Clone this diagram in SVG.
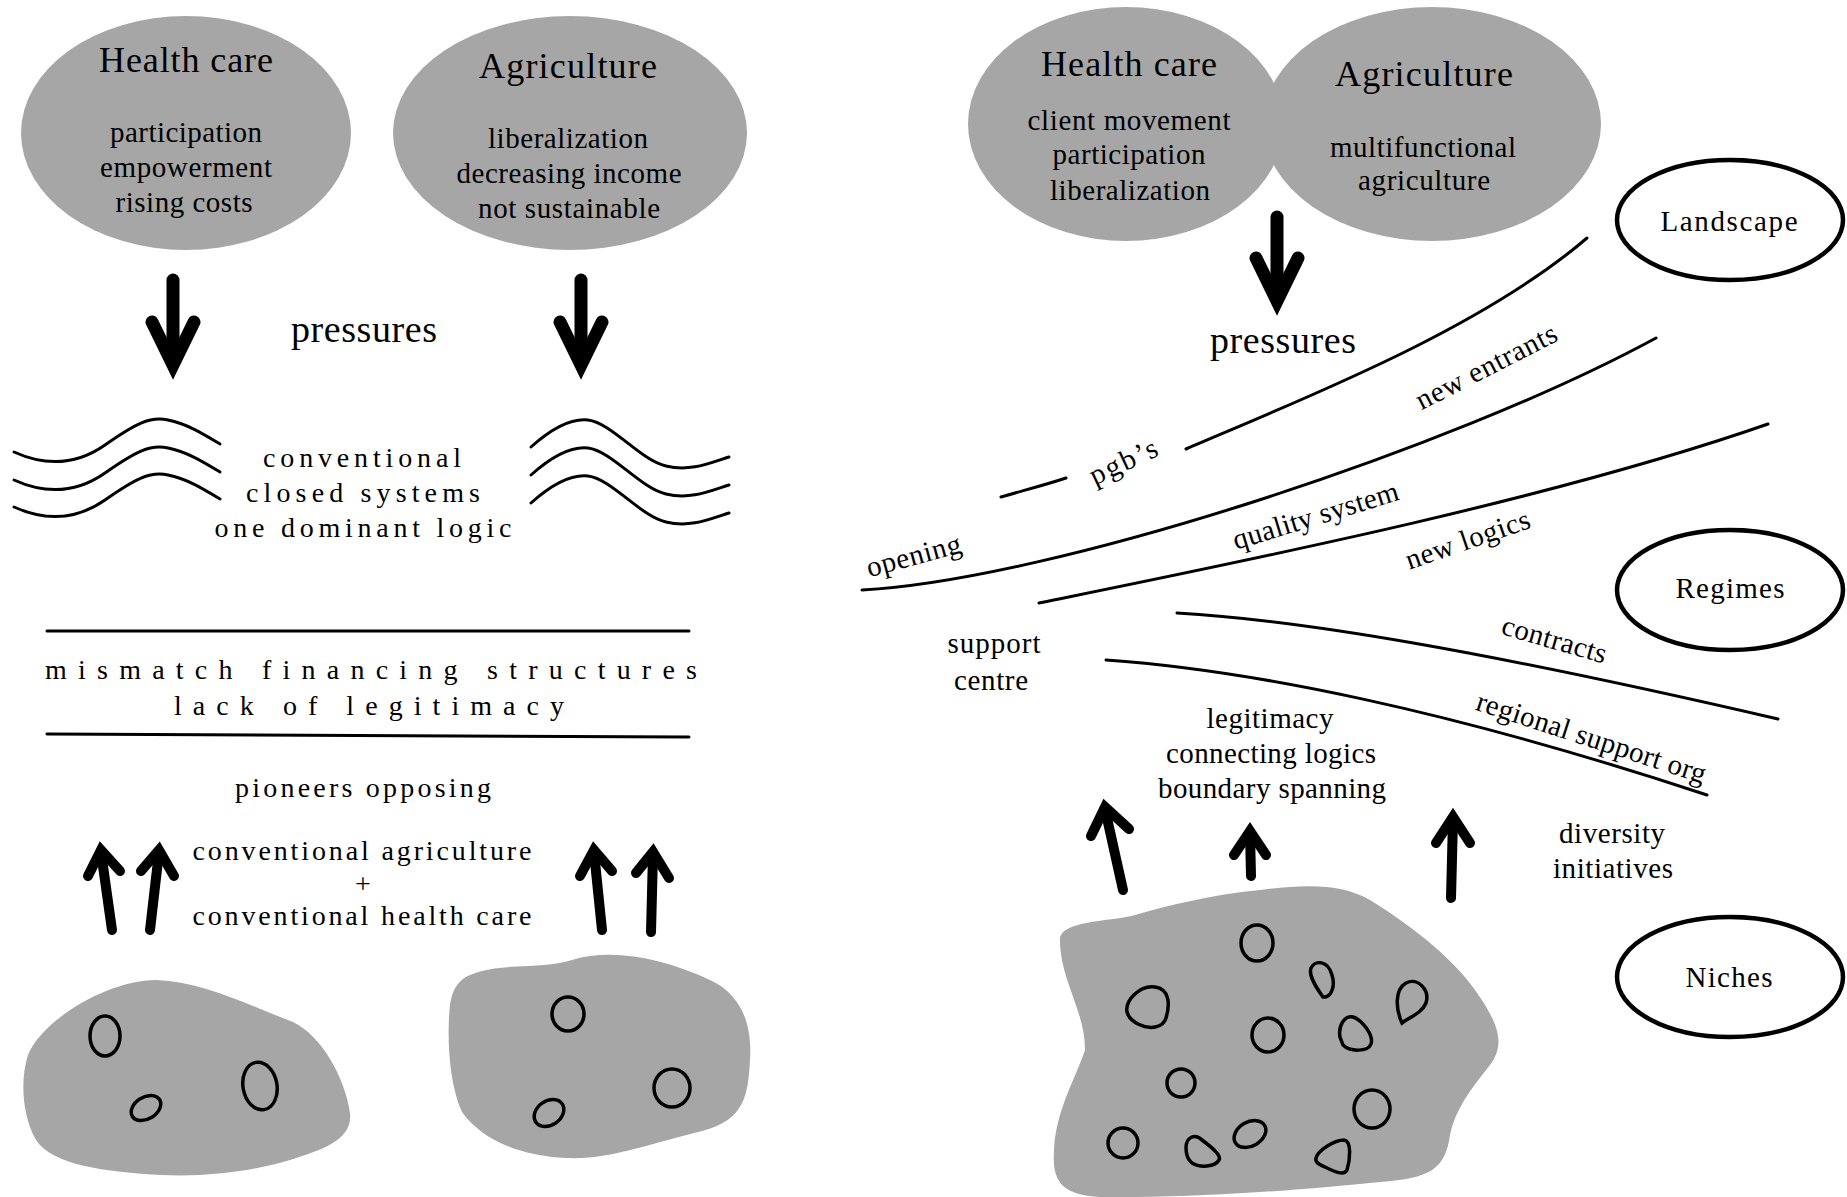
<svg xmlns="http://www.w3.org/2000/svg" width="1847" height="1197" viewBox="0 0 1847 1197">
<style>
.t{font-family:"Liberation Serif","Times New Roman",serif;fill:#000;text-anchor:middle;font-size:29px}
.h{font-size:36px}
.p{font-size:38px}
.sp{font-size:28px}
.ln{fill:none;stroke:#000;stroke-width:3;stroke-linecap:round}
.sh{fill:none;stroke:#000;stroke-linecap:round}
.hd{fill:none;stroke:#000;stroke-linecap:round;stroke-linejoin:miter;stroke-miterlimit:8}
.big{stroke-width:13}
.sm{stroke-width:10}
.blob{fill:#a6a6a6}
.cell{fill:none;stroke:#000;stroke-width:3.5}
.lvl{fill:#fff;stroke:#000;stroke-width:4.5}
</style>
<rect width="1847" height="1197" fill="#fff"/>

<!-- LEFT PANEL -->
<g id="left-health">
<ellipse class="blob" cx="186" cy="133" rx="165" ry="117"/>
<text class="t h" x="186" y="72" textLength="174" lengthAdjust="spacing">Health care</text>
<text class="t" x="186" y="142" textLength="152" lengthAdjust="spacing">participation</text>
<text class="t" x="186" y="177" textLength="172" lengthAdjust="spacing">empowerment</text>
<text class="t" x="184" y="212" textLength="137" lengthAdjust="spacing">rising costs</text>
</g>
<g id="left-agriculture">
<ellipse class="blob" cx="570" cy="133" rx="177" ry="117"/>
<text class="t h" x="568" y="78" textLength="178" lengthAdjust="spacing">Agriculture</text>
<text class="t" x="568" y="148" textLength="160" lengthAdjust="spacing">liberalization</text>
<text class="t" x="569" y="183" textLength="225" lengthAdjust="spacing">decreasing income</text>
<text class="t" x="569" y="218" textLength="182" lengthAdjust="spacing">not sustainable</text>
</g>
<g id="left-pressures">
<text class="t p" x="364" y="342" textLength="146" lengthAdjust="spacing">pressures</text>
</g>
<g id="left-closed-systems">
<path class="ln" d="M14,452 C45,466 75,466 105,445 C135,424 150,416 168,420 C188,424 205,435 220,444"/>
<path class="ln" d="M14,480 C45,494 75,494 105,473 C135,452 150,444 168,448 C188,452 205,463 220,472"/>
<path class="ln" d="M14,507 C45,521 75,521 105,500 C135,479 150,471 168,475 C188,479 205,490 220,499"/>
<path class="ln" d="M531,447 C550,430 570,418 588,420 C612,423 640,460 666,466 C690,472 710,463 729,457"/>
<path class="ln" d="M531,475 C550,458 570,446 588,448 C612,451 640,488 666,494 C690,500 710,491 729,485"/>
<path class="ln" d="M531,503 C550,486 570,474 588,476 C612,479 640,516 666,522 C690,528 710,519 729,513"/>
<text class="t sp" x="362" y="467" textLength="198" lengthAdjust="spacing">conventional</text>
<text class="t sp" x="363" y="502" textLength="234" lengthAdjust="spacing">closed systems</text>
<text class="t sp" x="363" y="537" textLength="297" lengthAdjust="spacing">one dominant logic</text>
</g>
<g id="left-mismatch">
<path class="ln" d="M47,631 L689,631"/>
<path class="ln" d="M47,734 L689,737"/>
<text class="t sp" x="371" y="679" textLength="652" lengthAdjust="spacing">mismatch financing structures</text>
<text class="t sp" x="369" y="715" textLength="390" lengthAdjust="spacing">lack of legitimacy</text>
</g>
<g id="left-pioneers">
<text class="t sp" x="363" y="797" textLength="256" lengthAdjust="spacing">pioneers opposing</text>
<text class="t sp" x="362" y="860" textLength="339" lengthAdjust="spacing">conventional agriculture</text>
<text class="t sp" x="363" y="893">+</text>
<text class="t sp" x="362" y="925" textLength="339" lengthAdjust="spacing">conventional health care</text>
</g>
<g id="left-niche-health">
<path class="blob" d="M156,980 C205,982 250,1006 293,1022 C322,1036 345,1078 350,1113 C353,1140 322,1150 290,1160 C250,1172 205,1177 162,1175 C105,1172 52,1165 36,1140 C22,1115 20,1080 28,1055 C42,1020 108,980 156,980 Z"/>
<ellipse class="cell" cx="105" cy="1036" rx="15" ry="20"/>
<ellipse class="cell" cx="146" cy="1108" rx="16" ry="11" transform="rotate(-32 146 1108)"/>
<ellipse class="cell" cx="260" cy="1086" rx="17" ry="24" transform="rotate(-10 260 1086)"/>
</g>
<g id="left-niche-agriculture">
<path class="blob" d="M470,975 C500,962 540,970 572,960 C612,948 662,958 710,980 C745,996 752,1030 750,1060 C748,1095 745,1120 702,1131 C652,1143 610,1160 566,1158 C520,1156 482,1140 462,1112 C448,1082 447,1032 450,1005 C452,990 458,980 470,975 Z"/>
<ellipse class="cell" cx="568" cy="1014" rx="16" ry="17"/>
<ellipse class="cell" cx="672" cy="1088" rx="18" ry="19"/>
<ellipse class="cell" cx="549" cy="1113" rx="16" ry="12" transform="rotate(-35 549 1113)"/>
</g>

<!-- RIGHT PANEL -->
<g id="right-sectors">
<ellipse class="blob" cx="1126" cy="124" rx="158" ry="117"/>
<ellipse class="blob" cx="1432" cy="124" rx="169" ry="117"/>
<text class="t h" x="1129" y="76" textLength="176" lengthAdjust="spacing">Health care</text>
<text class="t" x="1129" y="130" textLength="203" lengthAdjust="spacing">client movement</text>
<text class="t" x="1129" y="164" textLength="153" lengthAdjust="spacing">participation</text>
<text class="t" x="1130" y="200" textLength="160" lengthAdjust="spacing">liberalization</text>
<text class="t h" x="1424" y="86" textLength="178" lengthAdjust="spacing">Agriculture</text>
<text class="t" x="1423" y="157" textLength="186" lengthAdjust="spacing">multifunctional</text>
<text class="t" x="1424" y="190" textLength="132" lengthAdjust="spacing">agriculture</text>
</g>
<g id="right-pressures">
<text class="t p" x="1283" y="353" textLength="146" lengthAdjust="spacing">pressures</text>
</g>
<g id="level-landscape">
<ellipse class="lvl" cx="1730" cy="220" rx="113" ry="60"/>
<text class="t" x="1729" y="231" textLength="137" lengthAdjust="spacing">Landscape</text>
</g>
<g id="level-regimes">
<ellipse class="lvl" cx="1730" cy="590" rx="113" ry="60"/>
<text class="t" x="1730" y="598" textLength="109" lengthAdjust="spacing">Regimes</text>
</g>
<g id="level-niches">
<ellipse class="lvl" cx="1730" cy="977" rx="113" ry="60"/>
<text class="t" x="1729" y="987" textLength="87" lengthAdjust="spacing">Niches</text>
</g>
<g id="regime-curves">
<path class="ln" d="M1001,497 C1025,490 1045,485 1066,478"/>
<path class="ln" d="M1186,449 C1300,400 1480,330 1587,238"/>
<path class="ln" d="M862,590 C1050,580 1450,450 1656,338"/>
<path class="ln" d="M1039,603 C1250,560 1550,500 1768,424"/>
<path class="ln" d="M1177,613 C1300,620 1480,650 1778,719"/>
<path class="ln" d="M1106,660 C1250,670 1450,710 1707,795"/>
</g>
<g id="curve-labels">
<text class="t" transform="translate(1124,463) rotate(-25)" x="0" y="8" textLength="72" lengthAdjust="spacing">pgb’s</text>
<text class="t" transform="translate(1487,368) rotate(-27)" x="0" y="8" textLength="155" lengthAdjust="spacing">new entrants</text>
<text class="t" transform="translate(914,557) rotate(-15)" x="0" y="8" textLength="97" lengthAdjust="spacing">opening</text>
<text class="t" transform="translate(1316,517) rotate(-17)" x="0" y="8" textLength="172" lengthAdjust="spacing">quality system</text>
<text class="t" transform="translate(1468,541) rotate(-19)" x="0" y="8" textLength="130" lengthAdjust="spacing">new logics</text>
<text class="t" transform="translate(1554,641) rotate(16)" x="0" y="8" textLength="108" lengthAdjust="spacing">contracts</text>
<text class="t" transform="translate(1591,739) rotate(18)" x="0" y="8" textLength="240" lengthAdjust="spacing">regional support org</text>
</g>
<g id="support-centre">
<text class="t" x="994" y="653" textLength="93" lengthAdjust="spacing">support</text>
<text class="t" x="991" y="690" textLength="74" lengthAdjust="spacing">centre</text>
</g>
<g id="niche-effects">
<text class="t" x="1270" y="728" textLength="127" lengthAdjust="spacing">legitimacy</text>
<text class="t" x="1271" y="763" textLength="210" lengthAdjust="spacing">connecting logics</text>
<text class="t" x="1272" y="798" textLength="228" lengthAdjust="spacing">boundary spanning</text>
</g>
<g id="diversity">
<text class="t" x="1612" y="843" textLength="106" lengthAdjust="spacing">diversity</text>
<text class="t" x="1613" y="878" textLength="120" lengthAdjust="spacing">initiatives</text>
</g>
<g id="right-niche">
<path class="blob" d="M1060,940 C1060,920 1110,922 1135,915 C1170,905 1210,895 1260,890 C1310,883 1345,885 1370,900 C1410,925 1450,955 1475,990 C1500,1025 1505,1045 1490,1065 C1470,1090 1455,1110 1450,1135 C1445,1170 1430,1178 1380,1182 C1300,1190 1200,1198 1100,1197 C1060,1195 1052,1180 1054,1150 C1056,1110 1075,1080 1085,1050 C1085,1010 1060,980 1060,940 Z"/>
<ellipse class="cell" cx="1257" cy="943" rx="16" ry="18"/>
<path class="cell" d="M1311,968 C1315,960 1328,960 1332,975 C1336,988 1330,998 1323,997 C1318,990 1308,976 1311,968 Z"/>
<path class="cell" d="M1127,1012 C1125,1000 1140,985 1155,987 C1170,989 1170,1005 1166,1018 C1163,1028 1150,1030 1138,1024 C1130,1020 1128,1016 1127,1012 Z"/>
<ellipse class="cell" cx="1268" cy="1035" rx="16" ry="17"/>
<path class="cell" d="M1340,1037 C1338,1025 1345,1015 1353,1017 C1362,1020 1374,1035 1371,1044 C1368,1052 1350,1052 1343,1045 Z"/>
<path class="cell" d="M1402,1023 C1396,1010 1394,990 1406,983 C1418,977 1430,990 1426,1003 C1422,1013 1410,1017 1402,1023 Z"/>
<ellipse class="cell" cx="1181" cy="1083" rx="14" ry="14"/>
<ellipse class="cell" cx="1372" cy="1109" rx="18" ry="19"/>
<ellipse class="cell" cx="1123" cy="1143" rx="15" ry="15"/>
<path class="cell" d="M1186,1148 C1186,1137 1195,1133 1202,1140 C1210,1146 1222,1155 1219,1160 C1215,1167 1200,1168 1192,1163 C1187,1159 1186,1154 1186,1148 Z"/>
<ellipse class="cell" cx="1250" cy="1134" rx="17" ry="12" transform="rotate(-30 1250 1134)"/>
<path class="cell" d="M1316,1158 C1318,1150 1335,1140 1344,1140 C1352,1141 1350,1160 1347,1170 C1344,1176 1335,1172 1325,1167 C1318,1164 1315,1162 1316,1158 Z"/>
</g>

<g id="connectors">
<path class="sh big" d="M173,280 L173,360"/>
<path class="hd big" d="M152,322 L173,365 L194,322"/>
<path class="sh big" d="M581,280 L581,360"/>
<path class="hd big" d="M560,322 L581,365 L602,322"/>
<path class="sh big" d="M1277,217 L1277,295"/>
<path class="hd big" d="M1256,258 L1277,301 L1298,258"/>
<path class="sh sm" d="M112,930 L101,852"/>
<path class="hd sm" d="M88,876 L101,850 L120,871"/>
<path class="sh sm" d="M150,930 L159,852"/>
<path class="hd sm" d="M141,871 L159,850 L174,876"/>
<path class="sh sm" d="M602,930 L594,852"/>
<path class="hd sm" d="M580,876 L594,850 L612,871"/>
<path class="sh sm" d="M651,932 L653,854"/>
<path class="hd sm" d="M636,873 L653,852 L669,878"/>
<path class="sh sm" d="M1123,890 L1105,809"/>
<path class="hd sm" d="M1091,836 L1105,807 L1129,829"/>
<path class="sh sm" d="M1251,876 L1250,833"/>
<path class="hd sm" d="M1234,855 L1250,831 L1266,855"/>
<path class="sh sm" d="M1451,898 L1453,819"/>
<path class="hd sm" d="M1436,843 L1453,817 L1470,843"/>
</g>
</svg>
